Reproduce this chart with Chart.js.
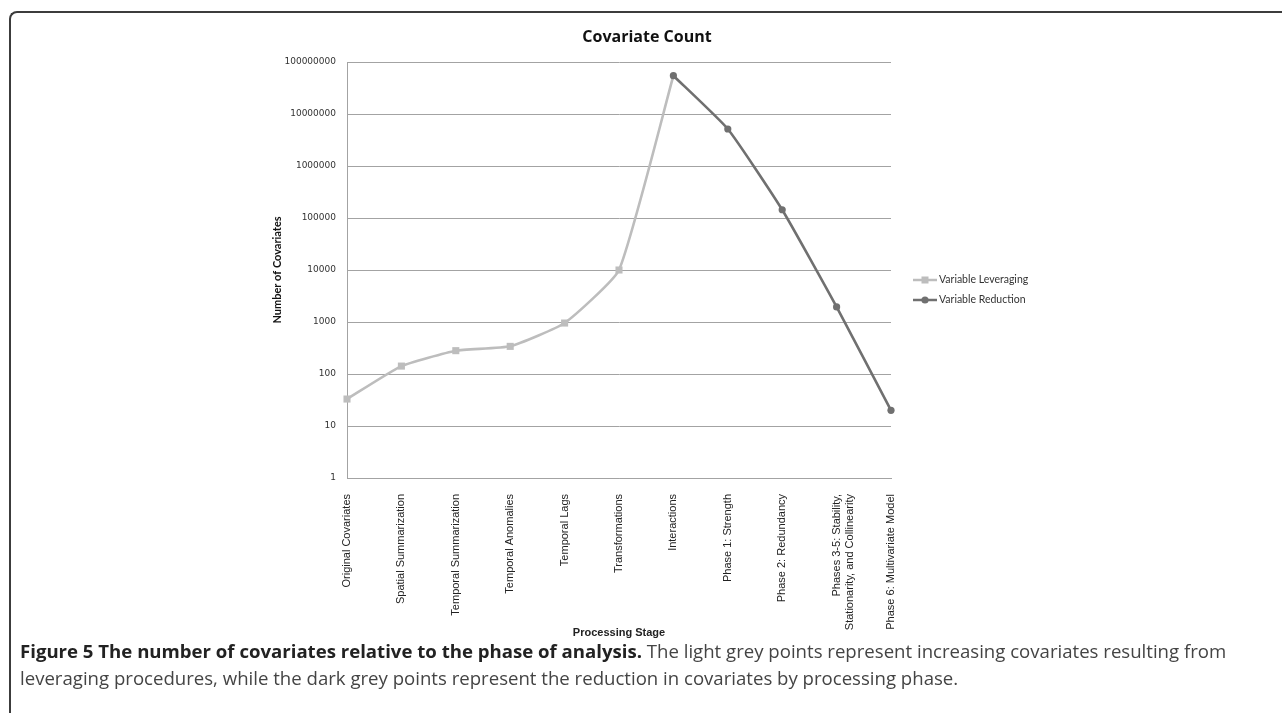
<!DOCTYPE html>
<html>
<head>
<meta charset="utf-8">
<script src="https://cdn.jsdelivr.net/npm/chart.js@4.4.1/dist/chart.umd.min.js"></script>
<style>
  html, body { margin: 0; padding: 0; background: #fff; }
  body { width: 1282px; height: 713px; position: relative; overflow: hidden; }
  #frame {
    position: absolute; left: 9px; top: 11px; width: 1400px; height: 800px;
    border-top: 2px solid #3c3c3c; border-left: 2px solid #3c3c3c;
    border-top-left-radius: 8px; box-sizing: border-box;
  }
  #chart { position: absolute; left: 0; top: 0; }
  #caption {
    position: absolute; left: 20px; top: 637px; width: 1262px;
    font-family: "Open Sans", Lato, sans-serif; font-size: 18.6px; line-height: 27px;
    color: #444; white-space: nowrap;
  }
  #caption b { color: #222; font-weight: 700; }
</style>
</head>
<body>
<div id="frame"></div>
<canvas id="chart" width="1282" height="713"></canvas>
<div id="caption"><b>Figure 5 The number of covariates relative to the phase of analysis.</b> The light grey points represent increasing covariates resulting from<br>leveraging procedures, while the dark grey points represent the reduction in covariates by processing phase.</div>
<script>
// Processing stages along the x axis
const stages = [
  'Original Covariates',
  'Spatial Summarization',
  'Temporal Summarization',
  'Temporal Anomalies',
  'Temporal Lags',
  'Transformations',
  'Interactions',
  'Phase 1: Strength',
  'Phase 2: Redundancy',
  ['Phases 3-5: Stability,', 'Stationarity, and Collinearity'],
  'Phase 6: Multivariate Model'
];

// Covariate counts while leveraging variables (up to the interactions step)
const leveraging = [33, 142, 281, 340, 955, 10000, 54500000, null, null, null, null];

// Covariate counts during the reduction phases
const reduction = [null, null, null, null, null, null, 54500000, 5150000, 144000, 1950, 20];

// Log-axis tick values
const yTicks = [1, 10, 100, 1000, 10000, 100000, 1000000, 10000000, 100000000];

const seriesNames = ['Variable Leveraging', 'Variable Reduction'];
const LIGHT = '#bdbdbd';
const DARK = '#707070';
const GRID = '#a3a3a3';

// Title and legend drawn next to the plot area
const decorations = {
  id: 'decorations',
  afterDraw(chart) {
    const ctx = chart.ctx;
    const area = chart.chartArea;
    ctx.save();
    ctx.fillStyle = '#111';
    ctx.font = 'bold 16px "Open Sans", Lato, sans-serif';
    ctx.textAlign = 'center';
    ctx.textBaseline = 'middle';
    ctx.fillText('Covariate Count', 647, 37);

    const lx = area.right + 22;
    const rows = [area.top + 218, area.top + 238];
    chart.data.datasets.forEach((ds, i) => {
      const y = rows[i];
      ctx.strokeStyle = ds.borderColor;
      ctx.lineWidth = 2.5;
      ctx.beginPath();
      ctx.moveTo(lx, y);
      ctx.lineTo(lx + 24, y);
      ctx.stroke();
      ctx.fillStyle = ds.borderColor;
      if (i === 0) {
        ctx.fillRect(lx + 12 - 3.5, y - 3.5, 7, 7);
      } else {
        ctx.beginPath();
        ctx.arc(lx + 12, y, 3.6, 0, Math.PI * 2);
        ctx.fill();
      }
      ctx.fillStyle = '#333';
      ctx.font = '10.5px Lato, "Open Sans", sans-serif';
      ctx.textAlign = 'left';
      ctx.fillText(ds.label, lx + 26, y);
    });
    ctx.restore();
  }
};

new Chart(document.getElementById('chart'), {
  type: 'line',
  data: {
    labels: stages,
    datasets: [
      {
        label: seriesNames[0],
        data: leveraging,
        borderColor: LIGHT,
        backgroundColor: LIGHT,
        borderWidth: 2.6,
        tension: 0.15,
        pointStyle: 'rect',
        pointRadius: c => (c.dataIndex === 6 ? 0 : 5),
        pointBorderWidth: 0,
        order: 2
      },
      {
        label: seriesNames[1],
        data: reduction,
        borderColor: DARK,
        backgroundColor: DARK,
        borderWidth: 2.6,
        tension: 0.15,
        pointStyle: 'circle',
        pointRadius: 3.6,
        pointBorderWidth: 0,
        order: 1
      }
    ]
  },
  options: {
    responsive: false,
    animation: false,
    layout: { padding: { left: 260, right: 391, top: 62, bottom: 70 } },
    plugins: {
      legend: { display: false },
      title: { display: false },
      tooltip: { enabled: false }
    },
    scales: {
      x: {
        offset: false,
        grid: { display: false },
        border: { display: true, color: GRID, width: 1 },
        ticks: {
          autoSkip: false,
          minRotation: 90,
          maxRotation: 90,
          padding: 8,
          color: '#222',
          font: { family: '"Liberation Sans", Arial, sans-serif', size: 11 }
        },
        title: {
          display: true,
          text: 'Processing Stage',
          color: '#222',
          padding: { top: 0, bottom: 3 },
          font: { family: '"Liberation Sans Narrow", "Liberation Sans", sans-serif', size: 11, weight: 'bold' }
        },
        afterFit(s) { s.height = 165; }
      },
      y: {
        type: 'logarithmic',
        min: 1,
        max: 100000000,
        grid: { color: GRID, lineWidth: 1, drawTicks: false },
        border: { display: true, color: GRID, width: 1 },
        afterBuildTicks(s) { s.ticks = yTicks.map(v => ({ value: v })); },
        ticks: {
          padding: 11,
          color: '#333',
          font: { family: '"DejaVu Sans", sans-serif', size: 9 },
          callback: v => String(v)
        },
        title: {
          display: true,
          text: 'Number of Covariates',
          color: '#111',
          padding: { top: 11, bottom: 0 },
          font: { family: 'Lato, "Open Sans", sans-serif', size: 11, weight: 'bold' }
        },
        afterFit(s) { s.width = 87; }
      }
    }
  },
  plugins: [decorations]
});
</script>
</body>
</html>
